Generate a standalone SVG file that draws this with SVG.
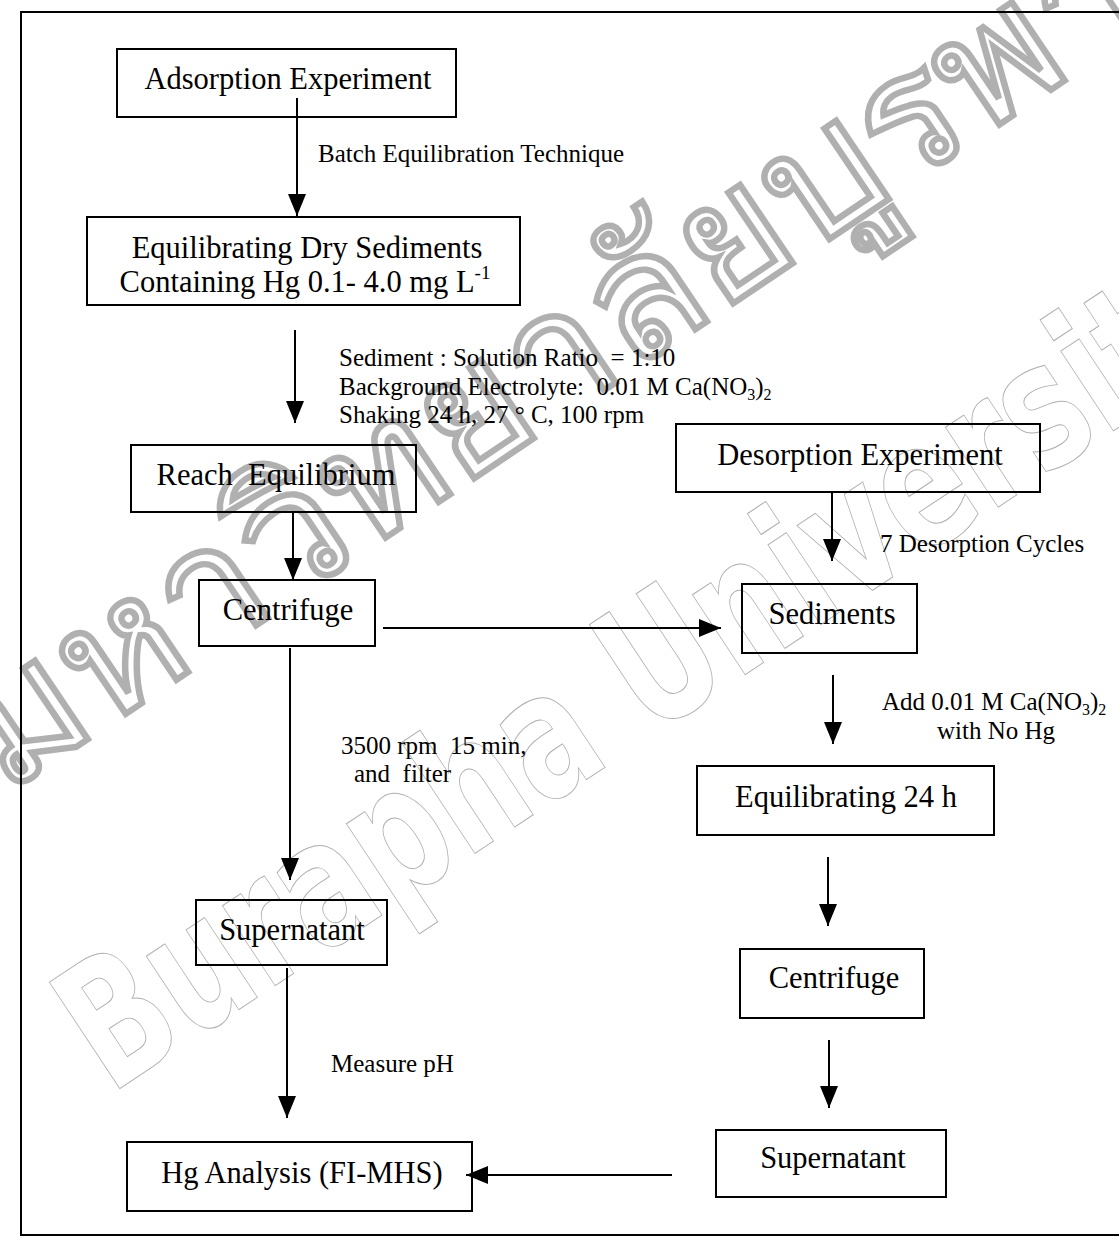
<svg xmlns="http://www.w3.org/2000/svg" width="1119" height="1240" viewBox="0 0 1119 1240">
<defs>
<style>
.box{fill:none;stroke:#000;stroke-width:2}
.t{font-family:"Liberation Serif","Times New Roman",serif;font-size:30.5px;fill:#000;text-anchor:middle;white-space:pre}
.l{font-family:"Liberation Serif","Times New Roman",serif;font-size:25px;fill:#000;white-space:pre}
.s{font-size:16px}
.c{stroke:#000;stroke-width:2;fill:none;marker-end:url(#ah)}
.wm{font-family:"DejaVu Sans",sans-serif;font-weight:bold;fill:none;stroke:#b0b0b0;stroke-width:1}
</style>
<marker id="ah" markerUnits="userSpaceOnUse" markerWidth="22" markerHeight="18" refX="22" refY="9" orient="auto">
<path d="M0,0 L22,9 L0,18 Z" fill="#000"/>
</marker>
</defs>
<rect width="1119" height="1240" fill="#fff"/>
<g id="watermark">
<text class="wm" font-size="175" textLength="1380" lengthAdjust="spacingAndGlyphs" transform="translate(110,1095) rotate(-33.5)">Burapha University</text>
<text class="wm" font-size="170" font-weight="normal" stroke="#bdbdbd" stroke-width="0.8" textLength="1390" lengthAdjust="spacingAndGlyphs" transform="translate(5,795) rotate(-34)">มหาวิทยาลัยบูรพา</text>
</g>
<path d="M1119,12 H21 V1235 H1119" fill="none" stroke="#000" stroke-width="2"/>
<g id="connectors">
<line class="c" x1="297" y1="98" x2="297" y2="216"/>
<line class="c" x1="295" y1="330" x2="295" y2="423"/>
<line class="c" x1="293" y1="512" x2="293" y2="580"/>
<line class="c" x1="383" y1="628" x2="721" y2="628"/>
<line class="c" x1="832" y1="492" x2="832" y2="561"/>
<line class="c" x1="290" y1="648" x2="290" y2="880"/>
<line class="c" x1="833" y1="675" x2="833" y2="744"/>
<line class="c" x1="828" y1="857" x2="828" y2="926"/>
<line class="c" x1="829" y1="1040" x2="829" y2="1108"/>
<line class="c" x1="287" y1="968" x2="287" y2="1118"/>
<line class="c" x1="672" y1="1175" x2="466" y2="1175"/>
</g>
<g id="labels">
<text class="l" x="318" y="162">Batch Equilibration Technique</text>
<text class="l" x="339" y="366">Sediment : Solution Ratio  = 1:10</text>
<text class="l" x="339" y="395">Background Electrolyte:  0.01 M Ca(NO<tspan class="s" dy="5">3</tspan><tspan dy="-5">)</tspan><tspan class="s" dy="5">2</tspan></text>
<text class="l" x="339" y="423">Shaking 24 h, 27 ° C, 100 rpm</text>
<text class="l" x="880" y="552">7 Desorption Cycles</text>
<text class="l" x="882" y="710">Add 0.01 M Ca(NO<tspan class="s" dy="5">3</tspan><tspan dy="-5">)</tspan><tspan class="s" dy="5">2</tspan></text>
<text class="l" x="937" y="739">with No Hg</text>
<text class="l" x="341" y="754">3500 rpm  15 min,</text>
<text class="l" x="354" y="782">and  filter</text>
<text class="l" x="331" y="1072">Measure pH</text>
</g>
<g id="n1"><rect class="box" x="117" y="49" width="339" height="68"/><text class="t" x="288" y="89">Adsorption Experiment</text></g>
<g id="n2"><rect class="box" x="87" y="217" width="433" height="88"/><text class="t" x="307" y="258">Equilibrating Dry Sediments</text><text class="t" x="305" y="292">Containing Hg 0.1- 4.0 mg L<tspan font-size="19" dy="-13">-1</tspan></text></g>
<g id="n3"><rect class="box" x="131" y="445" width="285" height="67"/><text class="t" x="276" y="485">Reach  Equilibrium</text></g>
<g id="n4"><rect class="box" x="199" y="580" width="176" height="66"/><text class="t" x="288" y="620">Centrifuge</text></g>
<g id="n5"><rect class="box" x="676" y="424" width="364" height="68"/><text class="t" x="860" y="465">Desorption Experiment</text></g>
<g id="n6"><rect class="box" x="742" y="584" width="175" height="69"/><text class="t" x="832" y="624">Sediments</text></g>
<g id="n7"><rect class="box" x="697" y="766" width="297" height="69"/><text class="t" x="846" y="807">Equilibrating 24 h</text></g>
<g id="n8"><rect class="box" x="740" y="949" width="184" height="69"/><text class="t" x="834" y="988">Centrifuge</text></g>
<g id="n9"><rect class="box" x="716" y="1130" width="230" height="67"/><text class="t" x="833" y="1168">Supernatant</text></g>
<g id="n10"><rect class="box" x="196" y="900" width="191" height="65"/><text class="t" x="292" y="940">Supernatant</text></g>
<g id="n11"><rect class="box" x="127" y="1142" width="345" height="69"/><text class="t" x="302" y="1183">Hg Analysis (FI-MHS)</text></g>
</svg>
